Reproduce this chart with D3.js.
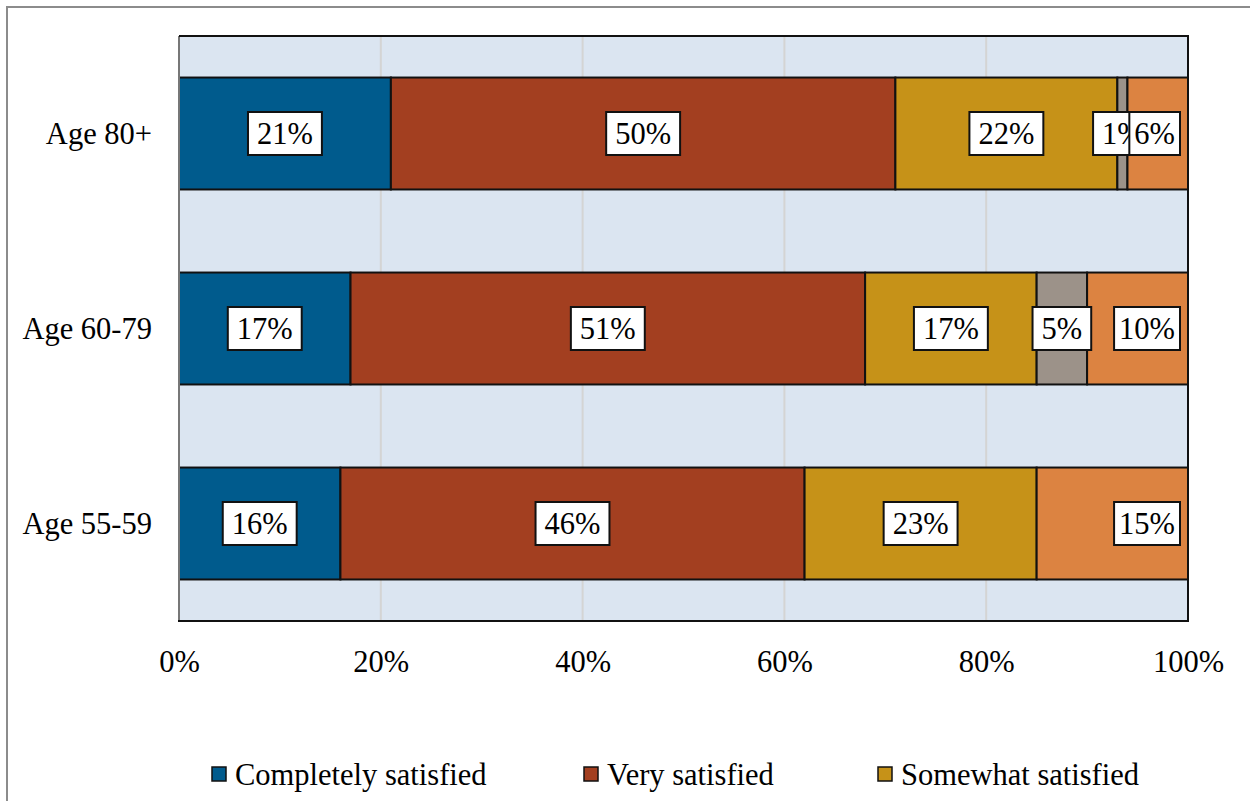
<!DOCTYPE html>
<html>
<head>
<meta charset="utf-8">
<script src="https://cdn.jsdelivr.net/npm/d3@7"></script>
<style>
  html, body { margin: 0; padding: 0; background: #fff; }
  svg { display: block; }
  text { font-family: "Liberation Serif", "DejaVu Serif", serif; fill: #000; }
</style>
</head>
<body>
<svg id="chart" width="1250" height="801"></svg>
<script>
// Satisfaction shares by age group (percent of respondents)
const categories = ["Age 80+", "Age 60-79", "Age 55-59"];
const seriesNames = ["Completely satisfied", "Very satisfied", "Somewhat satisfied", "Not very satisfied", "Not at all satisfied"];
const seriesColors = ["#005b8d", "#a33f20", "#c69218", "#9c9289", "#dc8341"];
const completely = [21, 17, 16];
const very = [50, 51, 46];
const somewhat = [22, 17, 23];
const notVery = [1, 5, 0];
const notAtAll = [6, 10, 15];
const tickValues = [0, 20, 40, 60, 80, 100];
const legendShown = 3;

const values = [completely, very, somewhat, notVery, notAtAll];
const rows = categories.map((c, i) => {
  const r = { category: c };
  seriesNames.forEach((s, j) => { r[s] = values[j][i]; });
  return r;
});
const stacked = d3.stack().keys(seriesNames)(rows);

const svg = d3.select("#chart");
const W = 1250, H = 801;
const plot = { left: 179, right: 1188, top: 36, bottom: 621 };
const fontSize = 30.5;

// outer frame
svg.append("path")
  .attr("d", `M7,${H} L7,7 L${W},7`)
  .attr("fill", "none").attr("stroke", "#8c8c8c").attr("stroke-width", 2);

const x = d3.scaleLinear().domain([0, 100]).range([plot.left, plot.right]);
const y = d3.scaleBand().domain(categories).range([plot.top, plot.bottom]).paddingInner(0.426).paddingOuter(0.213);

// plot background
svg.append("rect")
  .attr("x", plot.left).attr("y", plot.top)
  .attr("width", plot.right - plot.left).attr("height", plot.bottom - plot.top)
  .attr("fill", "#dbe5f1");

// vertical gridlines
svg.append("g").selectAll("line")
  .data(tickValues.filter(v => v > 0 && v < 100))
  .join("line")
  .attr("x1", d => x(d)).attr("x2", d => x(d))
  .attr("y1", plot.top).attr("y2", plot.bottom)
  .attr("stroke", "#d4d4d4").attr("stroke-width", 2);

// stacked bars
const layers = svg.append("g").selectAll("g")
  .data(stacked)
  .join("g")
  .attr("fill", (d, i) => seriesColors[i]);

layers.selectAll("rect")
  .data(d => d.filter(p => p[1] - p[0] > 0))
  .join("rect")
  .attr("x", d => x(d[0]))
  .attr("y", d => y(d.data.category))
  .attr("width", d => x(d[1]) - x(d[0]))
  .attr("height", y.bandwidth())
  .attr("stroke", "#111").attr("stroke-width", 2);

// plot border
svg.append("line")
  .attr("x1", plot.left).attr("x2", plot.left).attr("y1", plot.top).attr("y2", plot.bottom)
  .attr("stroke", "#777").attr("stroke-width", 2);
svg.append("path")
  .attr("d", `M${plot.left},${plot.top} L${plot.right},${plot.top} L${plot.right},${plot.bottom} L${plot.left - 1},${plot.bottom}`)
  .attr("fill", "none").attr("stroke", "#111").attr("stroke-width", 2);

// value labels in white boxes; the last segment's label sits at the inside end
const labels = svg.append("g");
stacked.forEach((layer, si) => {
  const last = si === stacked.length - 1;
  layer.forEach(p => {
    const v = p[1] - p[0];
    if (v <= 0) return;
    const g = labels.append("g");
    const t = g.append("text")
      .attr("font-size", fontSize)
      .attr("text-anchor", "middle")
      .text(v + "%");
    const tw = t.node().getComputedTextLength();
    const bw = tw + (last ? 10 : 18), bh = 43;
    let cx = (x(p[0]) + x(p[1])) / 2;
    if (last) cx = x(100) - 8 - bw / 2;
    const cy = y(p.data.category) + y.bandwidth() / 2;
    t.attr("x", cx).attr("y", cy + 10.5);
    g.insert("rect", "text")
      .attr("x", cx - bw / 2).attr("y", cy - bh / 2)
      .attr("width", bw).attr("height", bh)
      .attr("fill", "#fff").attr("stroke", "#111").attr("stroke-width", 2);
  });
});

// category axis labels
svg.append("g").selectAll("text")
  .data(categories)
  .join("text")
  .attr("x", 152)
  .attr("y", d => y(d) + y.bandwidth() / 2 + 10.5)
  .attr("text-anchor", "end")
  .attr("font-size", fontSize)
  .text(d => d);

// percentage axis
const xAxis = d3.axisBottom(x).tickValues(tickValues).tickSize(0).tickPadding(0).tickFormat(d => d + "%");
const ax = svg.append("g").attr("transform", `translate(0,${plot.bottom})`).call(xAxis);
ax.select(".domain").remove();
ax.selectAll("text")
  .attr("font-size", fontSize)
  .attr("font-family", "Liberation Serif, DejaVu Serif, serif")
  .attr("fill", "#000")
  .attr("dy", 0).attr("y", 51);

// legend
const legendX = [212, 584, 878];
const lg = svg.append("g");
seriesNames.slice(0, legendShown).forEach((name, i) => {
  const item = lg.append("g").attr("transform", `translate(${legendX[i]},774)`);
  item.append("rect")
    .attr("x", 0).attr("y", -7).attr("width", 14).attr("height", 14)
    .attr("fill", seriesColors[i]).attr("stroke", "#111").attr("stroke-width", 1.5);
  item.append("text")
    .attr("x", 23).attr("y", 10.5)
    .attr("font-size", fontSize)
    .text(name);
});
</script>
</body>
</html>
